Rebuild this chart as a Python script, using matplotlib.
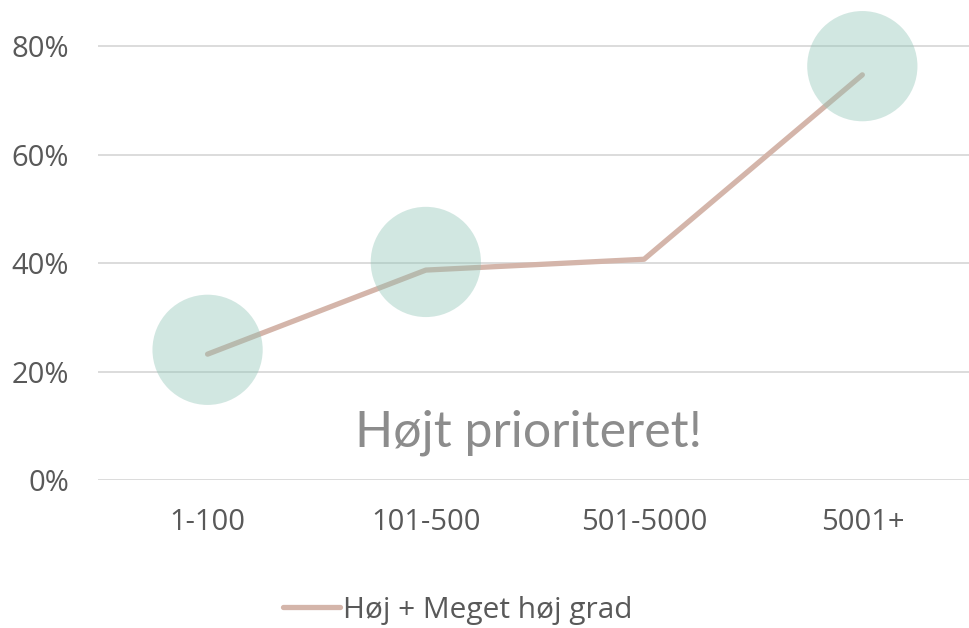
import matplotlib
matplotlib.use("Agg")
import matplotlib.pyplot as plt
from matplotlib.ticker import PercentFormatter

categories = ["1-100", "101-500", "501-5000", "5001+"]
share_high = [0.232, 0.387, 0.407, 0.747]
series_label = "Høj + Meget høj grad"

# highlight bubbles: category index and level
bubble_idx = [0, 1, 3]
bubble_val = [0.24, 0.402, 0.763]
annotation = "Højt prioriteret!"

yticks = [0, 0.2, 0.4, 0.6, 0.8]

plt.rcParams["font.family"] = ["Open Sans", "DejaVu Sans"]

fig = plt.figure(figsize=(9.7, 6.28), dpi=100)
ax = fig.add_axes([0.1015, 0.2357, 0.9, 0.76])

x = list(range(len(categories)))
ax.plot(x, share_high, color="#d4b5aa", lw=3.8, solid_capstyle="round",
        label=series_label, zorder=3)
ax.scatter(bubble_idx, bubble_val, s=6300, color="#8ec3b5", alpha=0.4,
           edgecolors="none", zorder=4, clip_on=False)

ax.set_xlim(-0.5, len(categories) - 0.5)
ax.set_ylim(0, 0.88)
ax.set_yticks(yticks)
ax.yaxis.set_major_formatter(PercentFormatter(1.0, decimals=0))
ax.set_xticks(x)
ax.set_xticklabels(categories)

ax.grid(axis="y", color="#d9d9d9", lw=1.3, zorder=0)
ax.set_axisbelow(True)
for s in ax.spines.values():
    s.set_visible(False)
ax.tick_params(axis="both", length=0, labelsize=21, labelcolor="#595959")
ax.tick_params(axis="x", pad=20)
ax.tick_params(axis="y", pad=21)

ax.text(1.47, 0.088, annotation, ha="center", va="center",
        fontsize=36, color="#8c8c8c", family=["Lato", "DejaVu Sans"], zorder=5)

leg = fig.legend(loc="center", bbox_to_anchor=(0.472, 0.028), frameon=False,
                 fontsize=21.5, handlelength=1.9, handletextpad=0.1)
for t in leg.get_texts():
    t.set_color("#595959")

fig.savefig("out.png", dpi=100)
